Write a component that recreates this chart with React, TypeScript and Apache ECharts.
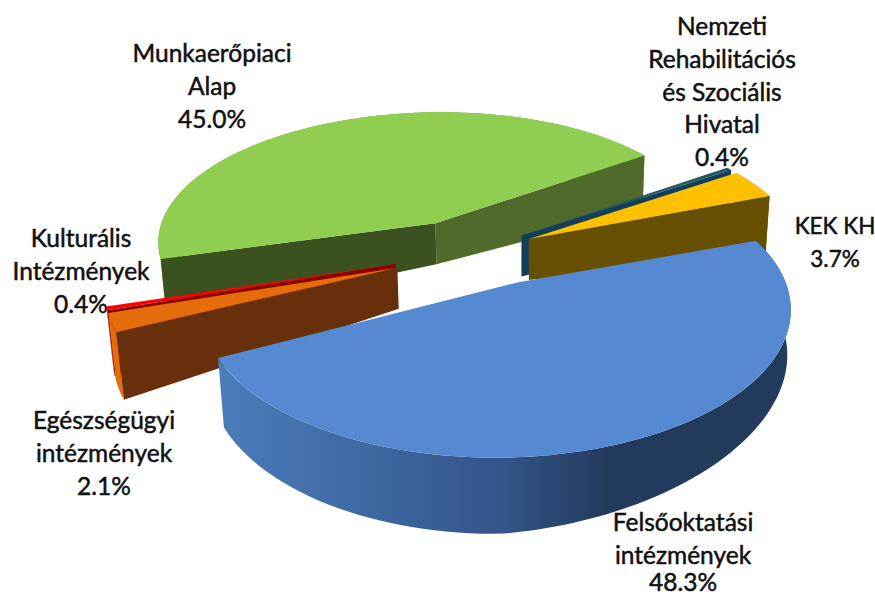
import React, { useEffect, useRef } from "react";
import * as echarts from "echarts";

const names = ["Nemzeti\nRehabilitációs\nés Szociális\nHivatal", "KEK KH", "Felsőoktatási\nintézmények", "Egészségügyi\nintézmények", "Kulturális\nIntézmények", "Munkaerőpiaci\nAlap"];
const values = [0.4, 3.7, 48.3, 2.1, 0.4, 45.0];
const explode = [0.2437, 0.2437, 0.2828, 0.255, 0.255, 0.2801];
const drawOrder = [5, 0, 1, 4, 3, 2];

const total = values.reduce((a, b) => a + b, 0);
const frac = values.map((v) => (v / total) * 360);
const starts: number[] = [];
frac.reduce((acc, f, i) => { starts[i] = acc; return acc + f; }, 0);

// perspective of the pie's top plane
const H = [293.8986, -38.3763, 469.9134, -8.1229, 94.8653, 252.4079, 0.0329, -0.1457];
const ROT = -28.122;
const apexNudge = [[-4, 1], [-1, 1], [17, -6], [-5, 2], [-5, 1], [-2, 3]];
const rimTaper = [0, 0, 0.07, 0, 0, 0];

function project(X: number, Y: number) {
  const w = 1 + H[6] * X + H[7] * Y;
  return [(H[0] * X + H[1] * Y + H[2]) / w, (H[3] * X + H[4] * Y + H[5]) / w];
}
function apexW(i: number) {
  const m = ((ROT + starts[i] + frac[i] / 2) * Math.PI) / 180;
  return [explode[i] * Math.cos(m), explode[i] * Math.sin(m)];
}
function rim(i: number, f: number) {
  const a = apexW(i);
  const t = ((ROT + starts[i] + frac[i] * f) * Math.PI) / 180;
  return project(a[0] + Math.cos(t), a[1] + Math.sin(t));
}

const topColor = ["#215968", "#ffc000", "#558ad3", "#e46c0a", "#ff0000", "#8fce50"];
const faceA = ["#123f57", "#664f00", "#223a5c", "#68300a", "#8a0000", "#3c5120"];
const faceB = ["#123f57", "#664f00", "#223a5c", "#68300a", "#8a0000", "#4f6a2a"];
const rimColor: any[] = ["#215968", "#7f6000", new echarts.graphic.LinearGradient(215, 0, 790, 0, [
  { offset: 0, color: "#4a7ebb" }, { offset: 0.5, color: "#33558a" }, { offset: 0.68, color: "#233a5c" }, { offset: 1, color: "#223a5c" }], true),
  "#e36c09", "#e00000", "#6f9a35"];
const labelPos = [[722, 9], [835, 209], [683, 505], [104, 403], [81, 221], [212, 36]];
const labelSize = [24.5, 22.5, 24.5, 24.5, 24.5, 24.5];
const percentShift = [0, 0, -6, 0, 0, 0];
const LINE = 32.8;
const FONT = "Lato";

function down(x: number, y: number, h: number) { return [x + ((520 - x) * h) / 3600, y + h]; }
function rimH(i: number, x: number, y: number) { return 58 + (y - 197) * 0.07 - Math.max(0, x - 500) * rimTaper[i]; }

function faceVisible(A: number[], R: number[], M: number[]) {
  const lineY = A[1] + ((R[1] - A[1]) * (M[0] - A[0])) / (R[0] - A[0]);
  return M[1] < lineY;
}

function renderItem(params: any, api: any) {
  const i = drawOrder[params.dataIndex];
  const a = apexW(i);
  const c = project(a[0], a[1]);
  const A = [c[0] + apexNudge[i][0], c[1] + apexNudge[i][1]];
  const Ab = down(A[0], A[1], 41);
  const arc: number[][] = [];
  const n = Math.max(6, Math.round(frac[i] / 2));
  for (let k = 0; k <= n; k++) arc.push(rim(i, k / n));
  const arcB = arc.map((q) => down(q[0], q[1], rimH(i, q[0], q[1])));
  const M = rim(i, 0.5);
  const children: any[] = [];
  children.push({ type: "polygon", shape: { points: arc.concat(arcB.slice().reverse()) }, style: { fill: rimColor[i] } });
  const faces = [
    { pts: [A, arc[0], arcB[0], Ab], fill: faceA[i], y: arc[0][1], vis: faceVisible(A, arc[0], M) },
    { pts: [A, arc[n], arcB[n], Ab], fill: faceB[i], y: arc[n][1], vis: faceVisible(A, arc[n], M) },
  ];
  for (const f of faces.sort((p, q) => p.y - q.y)) if (f.vis) children.push({ type: "polygon", shape: { points: f.pts }, style: { fill: f.fill } });
  children.push({ type: "polygon", shape: { points: [A, ...arc] }, style: { fill: topColor[i] } });
  return { type: "group", children };
}

export default function App() {
  const ref = useRef<HTMLDivElement>(null);
  useEffect(() => {
    const chart = echarts.init(ref.current!, null, { renderer: "svg" });
    const textStyle = (i: number) => ({ font: `${labelSize[i]}px ${FONT}`, fill: "#111", stroke: "#111", lineWidth: 0.5, textAlign: "center" });
    chart.setOption({
      animation: false,
      series: [{ type: "custom", coordinateSystem: "none", renderItem, silent: true, data: drawOrder.map((i) => [values[i]]) }],
      graphic: names.flatMap((n, i) => [
        { type: "text", x: labelPos[i][0], y: labelPos[i][1], style: { ...textStyle(i), text: n, lineHeight: LINE } },
        { type: "text", x: labelPos[i][0], y: labelPos[i][1] + (n.split("\n").length + 0.5) * LINE - 9 + percentShift[i], style: { ...textStyle(i), text: `${values[i].toFixed(1)}%`, lineHeight: 18 } },
      ]),
    });
    return () => chart.dispose();
  }, []);
  return <div ref={ref} style={{ width: 875, height: 596, position: "absolute", left: 0, top: 0, background: "#fff" }} />;
}
